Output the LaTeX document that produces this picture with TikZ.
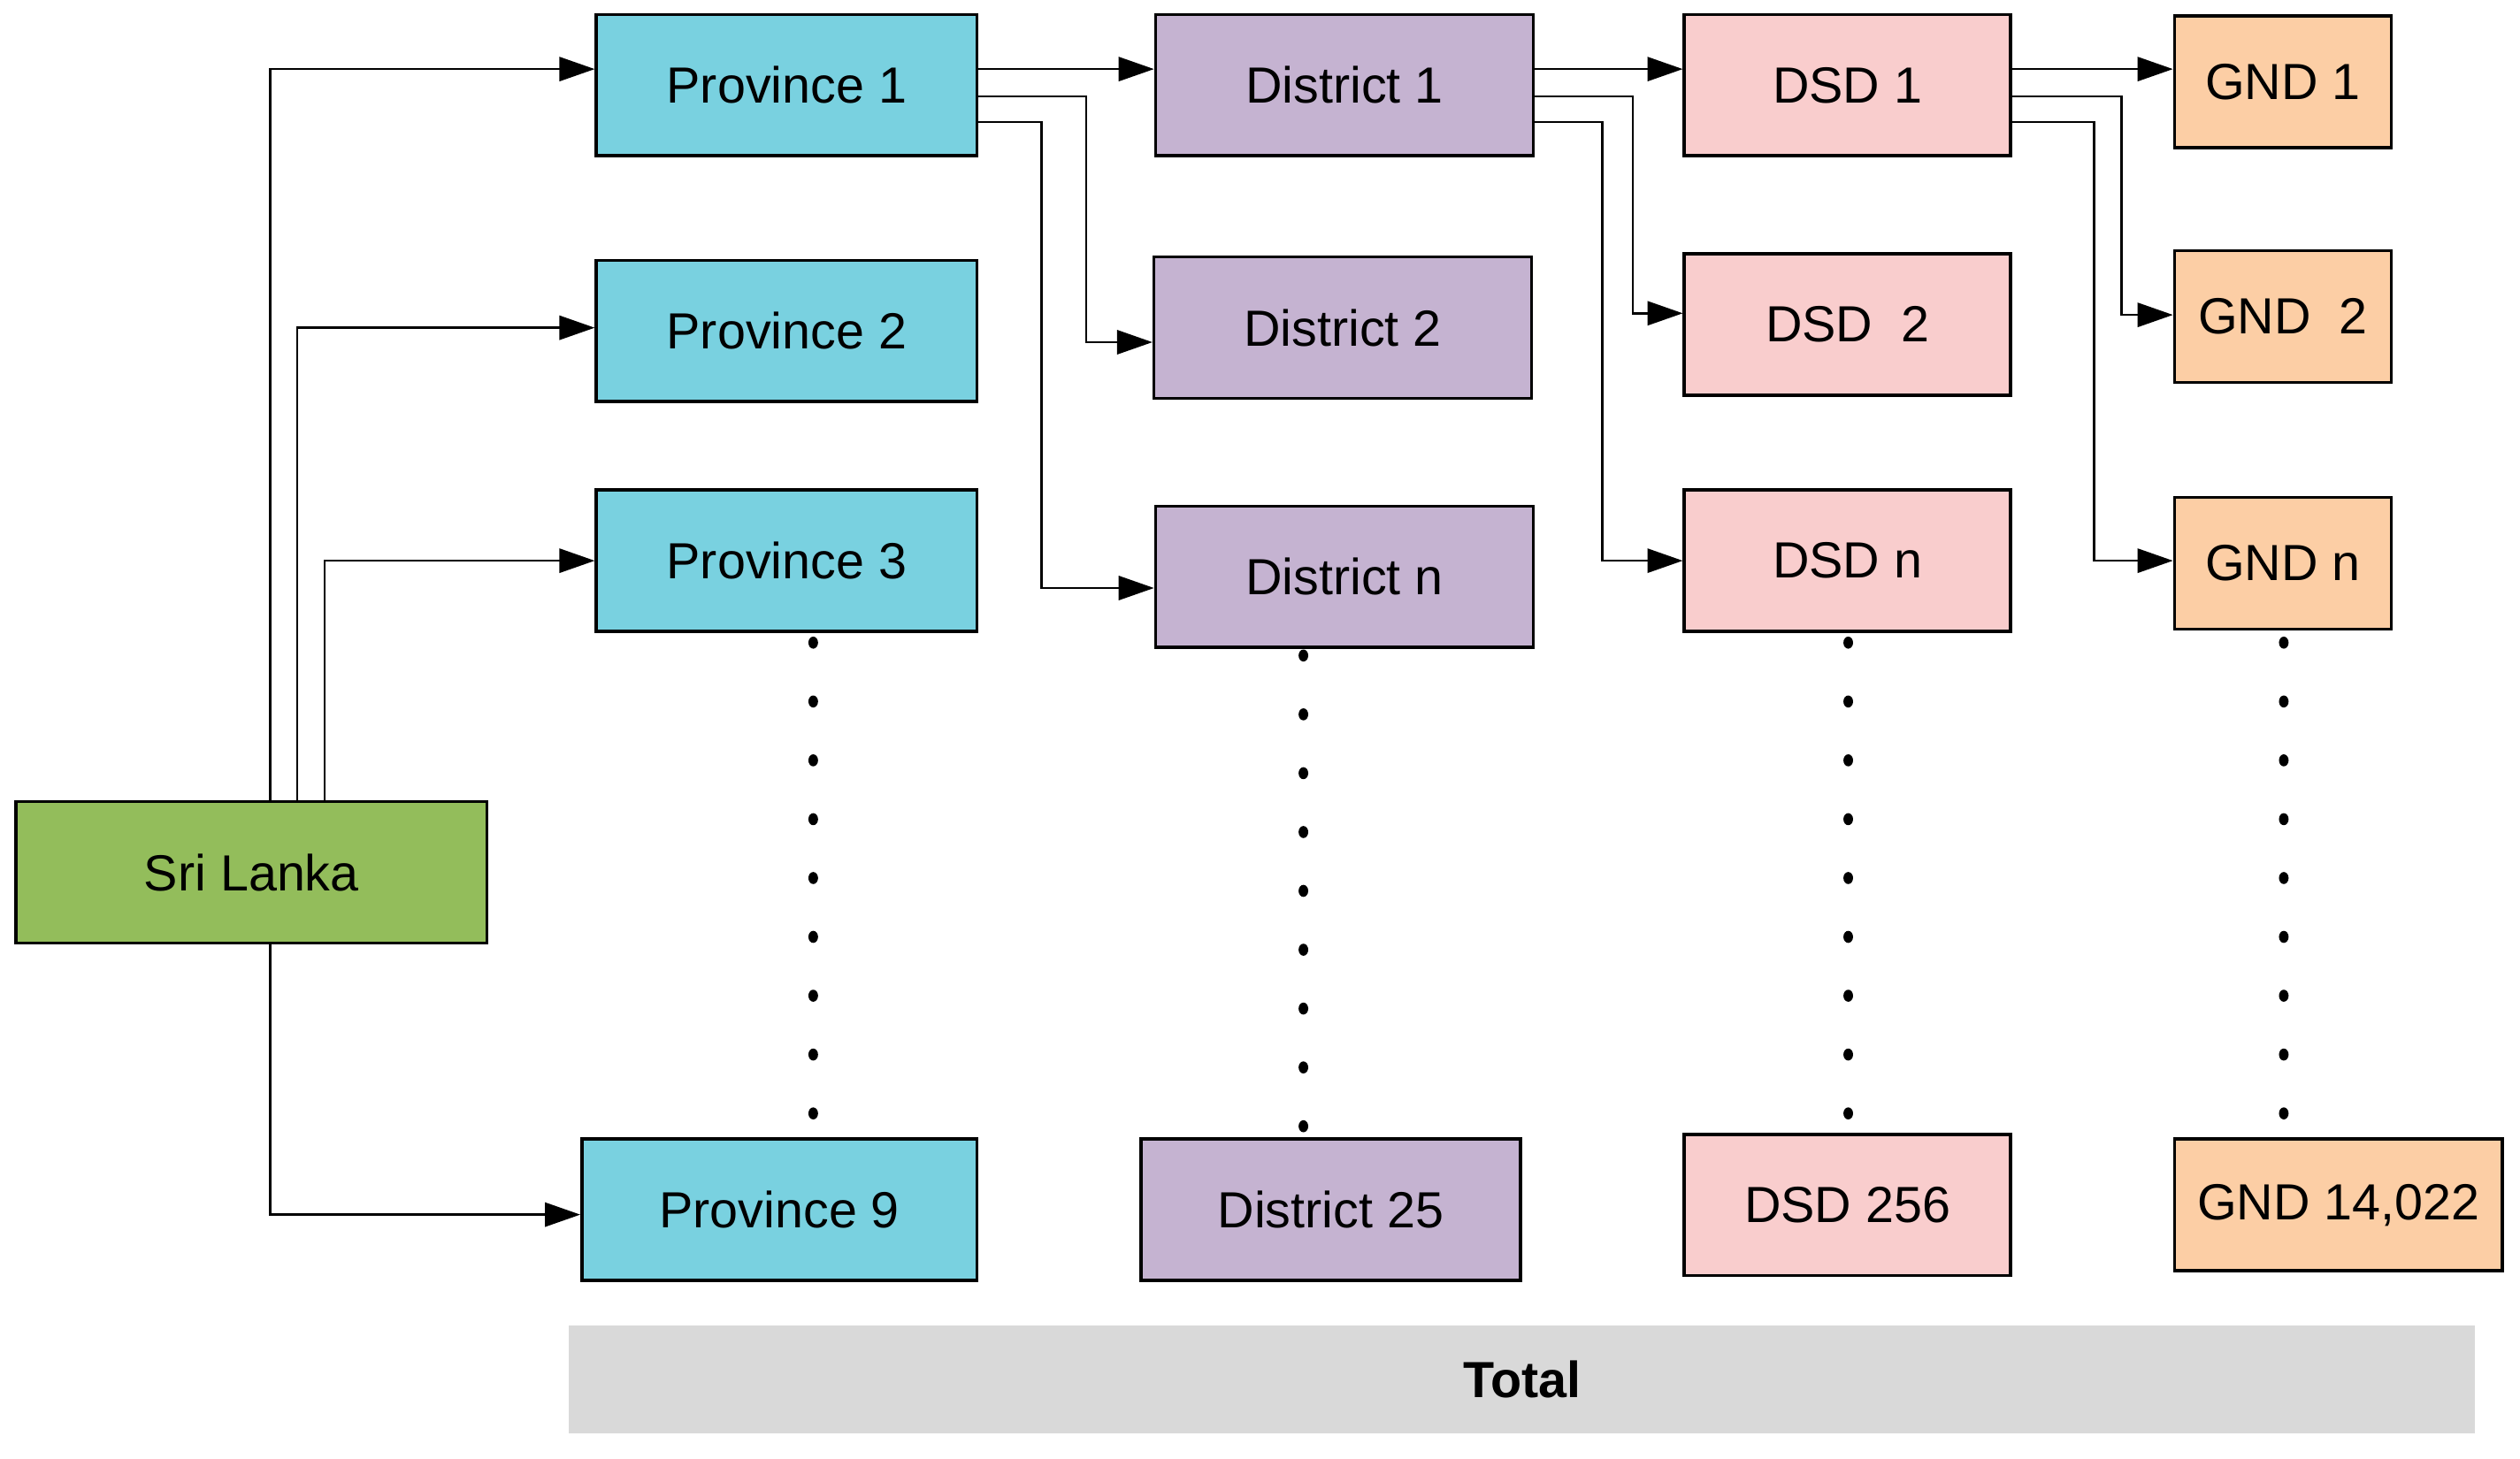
\documentclass[tikz,border=0pt]{standalone}
\usepackage{fontspec}
\setmainfont{Liberation Sans}
\usetikzlibrary{arrows.meta}
\definecolor{lankagreen}{HTML}{93BD5B}
\definecolor{provcyan}{HTML}{79D1E0}
\definecolor{distlilac}{HTML}{C5B3D1}
\definecolor{dsdpink}{HTML}{F9CDCD}
\definecolor{gndpeach}{HTML}{FCCEA5}
\definecolor{totalgray}{HTML}{D9D9D9}
\tikzset{
  unit/.style={draw,line width=1.1pt,inner sep=0pt,minimum height=1.76cm,font=\fontsize{18}{22}\selectfont},
  prov/.style={unit,fill=provcyan,minimum width=4.74cm},
  dist/.style={unit,fill=distlilac,minimum width=4.70cm},
  dsd/.style={unit,fill=dsdpink,minimum width=4.06cm},
  gnd/.style={unit,fill=gndpeach,minimum width=2.70cm,minimum height=1.64cm},
  link/.style={line width=0.8pt,-{Triangle[length=0.44cm,width=0.3cm]}},
}
\begin{document}
\begin{tikzpicture}[x=0.02cm,y=-0.02cm]
                \useasboundingbox (0,0) rectangle (1568,908);
                \node[unit,fill=lankagreen,minimum width=5.86cm] (sl) at (156.5,543) {Sri Lanka};
                \node[prov] (p1) at (489.5,53) {Province 1};
                \node[prov] (p2) at (489.5,206) {Province 2};
                \node[prov] (p3) at (489.5,349) {Province 3};
                \node[prov,minimum width=4.92cm] (p9) at (485,753) {Province 9};
                \node[dist] (d1) at (836.5,53) {District 1};
                \node[dist] (d2) at (835.5,204) {District 2};
                \node[dist] (dn) at (836.5,359) {District n};
                \node[dist,minimum width=4.72cm] (d25) at (828,753) {District 25};
                \node[dsd] (s1) at (1149.5,53) {DSD 1};
                \node[dsd] (s2) at (1149.5,202) {DSD\ \ 2};
                \node[dsd] (sn) at (1149.5,349) {DSD n};
                \node[dsd] (s256) at (1149.5,750) {DSD 256};
                \node[gnd] (g1) at (1420.5,51) {GND 1};
                \node[gnd] (g2) at (1420.5,197) {GND\ \ 2};
                \node[gnd] (gn) at (1420.5,350.5) {GND n};
                \node[gnd,minimum width=4.08cm] (g14022) at (1455,750) {GND 14,022};
                \node[fill=totalgray,minimum width=23.72cm,minimum height=1.34cm,font=\fontsize{18}{22}\selectfont\bfseries] (total) at (947,858.5) {Total};
                % country to provinces
                \draw[link] ([xshift=0.23cm]sl.north) |- ([yshift=0.2cm]p1.west);
                \draw[link] ([xshift=0.57cm]sl.north) |- ([yshift=0.04cm]p2.west);
                \draw[link] ([xshift=0.91cm]sl.north) |- (p3.west);
                \draw[link] ([xshift=0.23cm]sl.south) |- ([yshift=-0.06cm]p9.west);
                % provinces to districts
                \draw[link] ([yshift=0.2cm]p1.east) -- ([yshift=0.2cm]p1.east -| d1.west);
                \draw[link] ([yshift=-0.14cm]p1.east) -- ++(67,0) |- ([yshift=-0.18cm]d2.west);
                \draw[link] ([yshift=-0.46cm]p1.east) -- ++(39,0) |- ([yshift=-0.14cm]dn.west);
                % districts to DSDs
                \draw[link] ([yshift=0.2cm]d1.east) -- ([yshift=0.2cm]d1.east -| s1.west);
                \draw[link] ([yshift=-0.14cm]d1.east) -- ++(61,0) |- ([yshift=0.14cm]s2.west);
                \draw[link] ([yshift=-0.46cm]d1.east) -- ++(42,0) |- (sn.west);
                % DSDs to GNDs
                \draw[link] ([yshift=0.2cm]s1.east) -- ([yshift=0.2cm]s1.east -| g1.west);
                \draw[link] ([yshift=-0.14cm]s1.east) -- ++(68,0) |- ([yshift=0.02cm]g2.west);
                \draw[link] ([yshift=-0.46cm]s1.east) -- ++(51,0) |- ([yshift=0.03cm]gn.west);
                % dotted columns
                \foreach \x/\y in {506/400,811/408,1150/400,1421/400}
                    \foreach \k in {0,...,8}
                        \fill (\x,{\y+36.625*\k}) ellipse[x radius=0.06cm,y radius=0.075cm];
            \end{tikzpicture}
\end{document}
